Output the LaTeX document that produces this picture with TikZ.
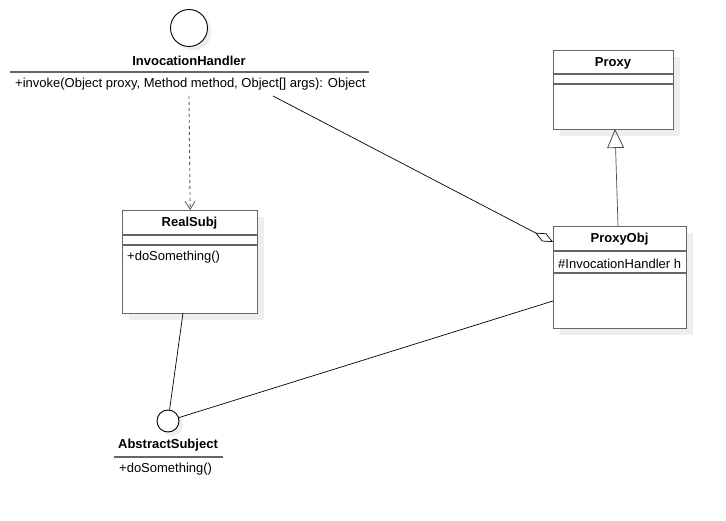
\documentclass[tikz,border=0pt]{standalone}
\usepackage{fontspec}
\setmainfont{Liberation Sans}
\usetikzlibrary{arrows.meta,shadows}
\definecolor{bx}{HTML}{666666}
\definecolor{shd}{HTML}{EEEEEE}
\begin{document}
\begin{tikzpicture}[x=1pt,y=-1pt,
  cls/.style={draw=bx, line width=1.3pt, fill=white, anchor=north west, inner sep=0pt,
    drop shadow={shadow xshift=6pt, shadow yshift=-6pt, fill=shd, opacity=1}},
  iface/.style={circle, draw=black, line width=0.9pt, fill=white, inner sep=0pt,
    drop shadow={shadow xshift=4pt, shadow yshift=-4pt, fill=shd, opacity=1}},
  ttl/.style={font=\fontsize{13}{15}\selectfont\bfseries, inner sep=0pt},
  mem/.style={font=\fontsize{13}{15}\selectfont, anchor=west, inner sep=0pt},
  sepl/.style={draw=bx, line width=1.3pt},
  conn/.style={draw=black, line width=0.7pt}
]
\useasboundingbox (0,0) rectangle (726,521);
\fill[white] (0,0) rectangle (726,521);

% InvocationHandler interface
\node[iface, minimum size=37pt] (ih) at (189,28) {};
\node[ttl] (ihtitle) at (189,60.5) {InvocationHandler};
\draw[sepl] (10,72) -- (369,72);
\node[mem] (ihm) at (15,84.5) {+invoke(Object proxy, Method method, Object[] args): Object};
\coordinate (ihd) at (189,96);
\coordinate (iha) at (273,96);

% RealSubj
\node[cls, minimum width=135pt, minimum height=103pt] (rs) at (122,210) {};
\node[ttl] (rstitle) at (189.5,223.5) {RealSubj};
\draw[sepl] (122,235) -- (257,235);
\draw[sepl] (122,245) -- (257,245);
\node[mem] (rsm) at (127,257) {+doSomething()};
\coordinate (rsb) at (183,313);

% Proxy
\node[cls, minimum width=120pt, minimum height=79pt] (px) at (553,50) {};
\node[ttl] (pxtitle) at (613,63) {Proxy};
\draw[sepl] (553,74) -- (673,74);
\draw[sepl] (553,84) -- (673,84);
\coordinate (pxb) at (615,129);

% ProxyObj
\node[cls, minimum width=133pt, minimum height=102pt] (po) at (553,226) {};
\node[ttl] (potitle) at (619.5,239.5) {ProxyObj};
\draw[sepl] (553,251) -- (686,251);
\node[mem] (pom) at (558,263.5) {\#InvocationHandler h};
\draw[sepl] (553,273) -- (686,273);
\coordinate (pot) at (618,226);
\coordinate (pol) at (553,242);
\coordinate (pob) at (553,301);

% AbstractSubject interface
\node[iface, minimum size=22pt] (as) at (168,421) {};
\node[ttl] (astitle) at (168,445.5) {AbstractSubject};
\draw[sepl] (114,457) -- (223,457);
\node[mem] (asm) at (119,469) {+doSomething()};

% connectors
\draw[draw=black!65, line width=0.9pt, dash pattern=on 3pt off 3pt,
  -{Straight Barb[length=8pt,width=10pt,line width=0.8pt]}] (ihd) -- (rs.north);
\draw[conn, draw=black!70, -{Triangle[open, length=19pt, width=17pt, line width=0.8pt]}] (pot) -- (pxb);
\draw[conn, -{Diamond[open, length=20pt, width=9pt, line width=0.7pt]}] (iha) -- (pol);
\draw[conn] (pob) -- (as);
\draw[conn] (rsb) -- (as);
\end{tikzpicture}
\end{document}
